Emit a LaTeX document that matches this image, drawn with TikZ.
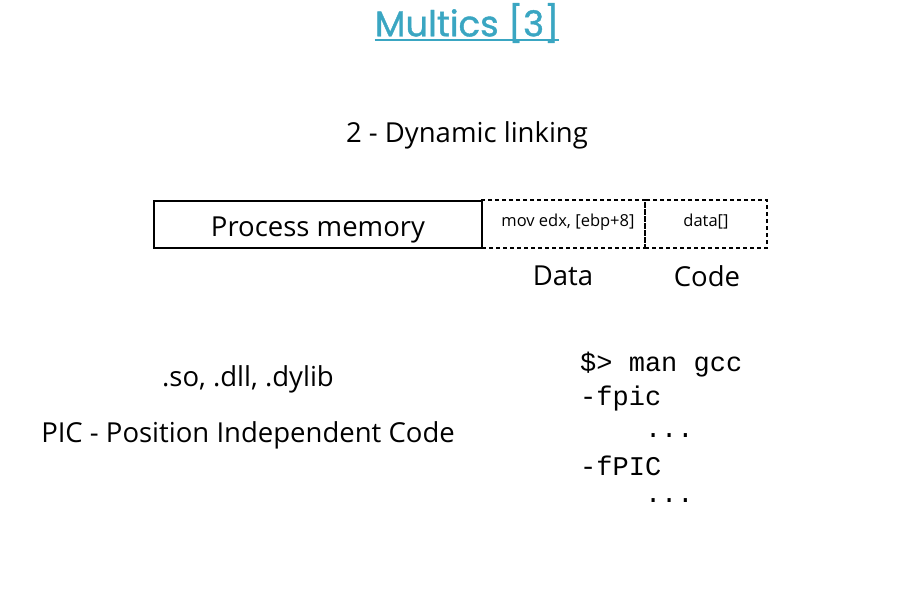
\documentclass[tikz,border=0pt]{standalone}
\usepackage{fontspec}
\setmainfont{Open Sans}
\newfontfamily\titlefont[FakeBold=1.2]{Poppins}
\newfontfamily\monofont{Liberation Mono}
\definecolor{titleblue}{HTML}{3AA6C2}
\begin{document}
\begin{tikzpicture}[x=1pt,y=-1pt,
  lbl/.style={inner sep=0pt,font=\fontsize{27.5}{32}\selectfont},
  small/.style={inner sep=0pt,font=\fontsize{16.5}{19}\selectfont},
  mono/.style={inner sep=0pt,anchor=west,font=\monofont\fontsize{27}{30}\selectfont},
  solidbox/.style={draw,line width=1.2pt},
  dashbox/.style={draw,line width=1.2pt,dash pattern=on 4pt off 3pt}]
\useasboundingbox (0,0) rectangle (919,599);
\node[inner sep=0pt,text=titleblue,font=\titlefont\fontsize{35.5}{40}\selectfont] (title) at (467,23) {Multics [3]};
\draw[titleblue,line width=1.8pt] (title.south west|-0,40) coordinate (ul1) -- (title.south east|-0,40) coordinate (ul2);
\node[lbl] (dyn) at (467,135) {2 - Dynamic linking};
\node[solidbox,minimum width=328pt,minimum height=47pt,inner sep=0pt] (pm) at (318,224.5) {};
\node[lbl] (pmt) at (318,229.5) {Process memory};
\node[dashbox,minimum width=163pt,minimum height=48pt,inner sep=0pt] (data) at (563.5,224) {};
\node[dashbox,minimum width=122pt,minimum height=48pt,inner sep=0pt] (code) at (706,224) {};
\node[small] at (568,222) {mov edx, [ebp+8]};
\node[small] at (706,222) {data[]};
\node[lbl] (datal) at (563,276) {Data};
\node[lbl] (codel) at (707,276) {Code};
\node[lbl] (so) at (248,379) {.so, .dll, .dylib};
\node[lbl] (pic) at (248,435) {PIC - Position Independent Code};
\node[mono] (m1) at (580,365) {\$> man gcc};
\node[mono] (m2) at (580,399) {-fpic};
\node[mono] (m3) at (580,436) {\ \ \ \ ...};
\node[mono] (m4) at (580,466) {-fPIC};
\node[mono] (m5) at (580,501) {\ \ \ \ ...};
\end{tikzpicture}
\end{document}
